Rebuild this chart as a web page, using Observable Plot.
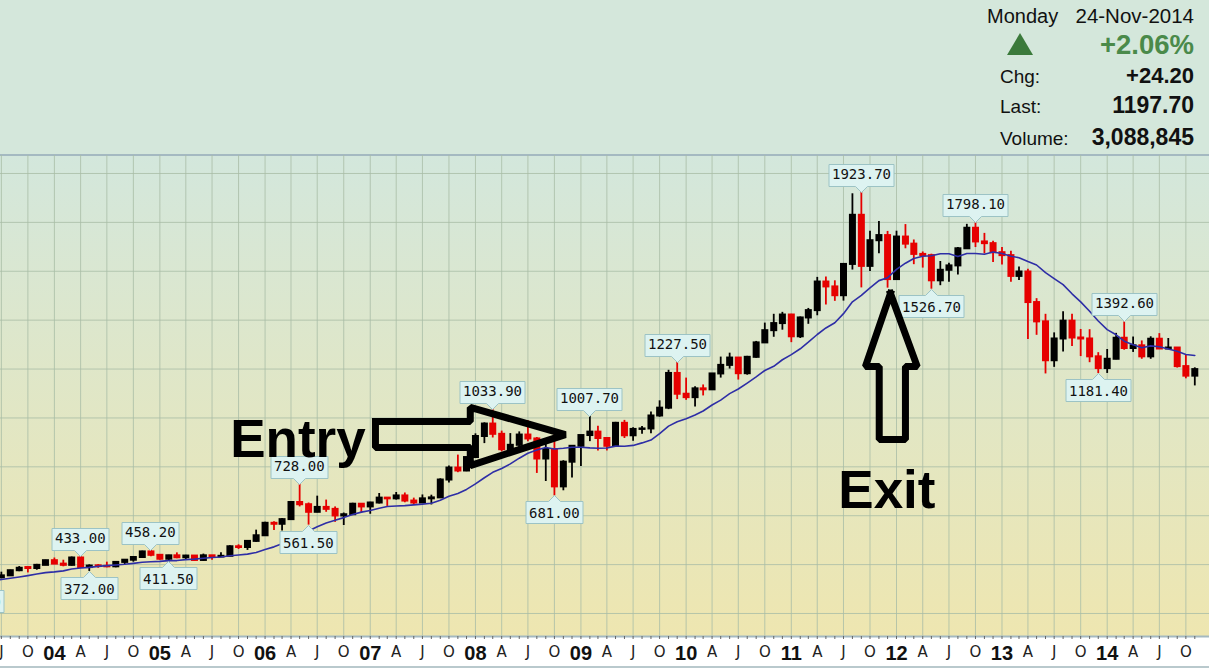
<!DOCTYPE html>
<html><head><meta charset="utf-8">
<script src="https://cdn.jsdelivr.net/npm/d3@7"></script>
<script src="https://cdn.jsdelivr.net/npm/@observablehq/plot@0.6"></script>
<style>
html,body{margin:0;padding:0;background:#fff;}
#wrap{position:relative;width:1209px;height:668px;overflow:hidden;font-family:"Liberation Sans",Arial,sans-serif;}
#head{position:relative;height:154px;background:#d4e7db;}
.t{position:absolute;white-space:nowrap;color:#111;line-height:1;}
.r{right:15px;text-align:right;}
.b{font-weight:bold;}
#tri{position:absolute;left:1007px;top:33px;width:0;height:0;border-left:13px solid transparent;border-right:13px solid transparent;border-bottom:22px solid #3b7a3b;}
#chart svg{display:block;}
</style></head><body>
<div id="wrap">
  <div id="head">
    <div class="t" style="left:987px;top:6px;font-size:20px;">Monday</div>
    <div class="t r" style="top:6px;font-size:20.5px;">24-Nov-2014</div>
    <div id="tri"></div>
    <div class="t r b" style="top:31px;font-size:27.5px;color:#4a8a4a;">+2.06%</div>
    <div class="t" style="left:1000px;top:67px;font-size:19px;">Chg:</div>
    <div class="t r b" style="top:65px;font-size:22px;">+24.20</div>
    <div class="t" style="left:1000px;top:97px;font-size:19px;">Last:</div>
    <div class="t r b" style="top:94px;font-size:23px;">1197.70</div>
    <div class="t" style="left:1000px;top:129px;font-size:19px;">Volume:</div>
    <div class="t r b" style="top:126px;font-size:23px;">3,088,845</div>
  </div>
  <div id="chart"></div>
</div>
<script>
// Monthly candles, Jul 2002 .. Nov 2014
const firstMonth = "2002-07-01";
const opens = [
 316.5,304,312,323,317,319,
 347,368,347,335,337,364,346,354,375,388,384,397,
 416,402,397,427,388,395,393,391,409,418,429,452,
 438,422,436,428,435,417,436,431,434,473,470,495,
 518,569,565,584,654,645,614,634,626,599,604,647,
 636,652,672,669,681,660,652,669,673,746,795,783,
 838,924,975,933,870,888,930,914,832,871,718,819,
 884,928,942,916,884,978,927,953,955,1008,1040,1182,
 1097,1083,1119,1115,1180,1215,1245,1181,1248,1307,1357,1386,
 1421,1332,1409,1439,1556,1536,1500,1628,1829,1620,1725,1746,
 1566,1740,1711,1669,1664,1561,1604,1622,1692,1776,1720,1713,
 1676,1664,1579,1597,1472,1393,1234,1323,1396,1327,1323,1250,
 1202,1240,1326,1284,1295,1250,1322,1282,1286,1210,1171];
const highs = [
 327,316,326,326,322,350,
 372,390,355,341,372,371,369,377,392,389,401,418,
 427,418,431,433,399,400,410,412,418,433,455,458.2,
 440,438,448,438,436,443,437,449,477,481,497,541,
 573,575,589,658,728,652,680,664,636,611,651,650,
 655,691,673,695,693,672,685,684,751,803,848,838,
 935,980,1033.9,946,936,943,988,920,914,940,825,887,
 928,1007.7,966,918,982,990,960,965,1024,1070,1195,1227.5,
 1163,1128,1135,1181,1249,1265,1246,1252,1313,1388,1424,1432,
 1424,1413,1448,1575,1577,1561,1632,1917,1923.7,1764,1804,1763,
 1764,1791,1728,1679,1670,1640,1633,1697,1792,1798.1,1755,1723,
 1697,1682,1617,1608,1488,1424,1348,1434,1424,1362,1361,1267,
 1280,1346,1392.6,1331,1315,1332,1345,1325,1288,1256,1205];
const lows = [
 302,300,311,310,313,317,
 345,343,322,319.9,336,341,342,353,371,366,377,396,
 400,391,394,386,372,385,387,387,398,410,428,432,
 418,411.5,424,421,414,414,418,431,432,462,458,491,
 518,540,537,583,636,561.5,612,614,573,560,602,611,
 606,648,638,664,653,642,651,644,672,734,776,780,
 834,895,918,861,850,858,903,773,740,681,702,754,
 801,903,865,865,880,916,905,933,935,1003,1034,1075,
 1072,1045,1090,1112,1163,1200,1155,1175,1244,1306,1330,1359,
 1308,1325,1383,1418,1462,1477,1478,1605,1532,1599,1672,1531,
 1564,1692,1627,1613,1526.7,1541,1555,1585,1690,1697,1671,1636,
 1626,1555,1562,1321,1338,1180,1207,1270,1292,1251,1226,1181.4,
 1182,1238,1277,1268,1240,1240,1281,1280,1204,1160,1131];
const closes = [
 304,312,323,317,319,347,
 368,347,335,337,364,346,354,375,385,384,397,416,
 402,397,427,388,394,393,391,409,418,429,452,438,
 422,436,428,435,417,436,431,434,473,470,495,518,
 569,565,584,654,645,614,634,626,599,604,647,636,
 652,672,669,681,660,652,669,673,746,795,783,838,
 924,975,933,870,888,930,914,832,871,718,819,884,
 928,942,916,884,978,927,953,955,1008,1040,1182,1097,
 1083,1119,1115,1180,1215,1245,1181,1248,1307,1357,1386,1421,
 1332,1409,1439,1556,1536,1500,1628,1829,1620,1725,1746,1566,
 1740,1711,1669,1664,1561,1604,1622,1692,1776,1720,1713,1676,
 1664,1579,1597,1472,1393,1234,1323,1396,1327,1323,1250,1202,
 1240,1326,1284,1295,1250,1322,1282,1286,1210,1171,1197.7];

// labelled swing highs / lows
const highLabels = [
 {date:"2004-04-01", value:433.00},{date:"2004-12-01", value:458.20},
 {date:"2006-05-01", value:728.00},{date:"2008-03-01", value:1033.90},
 {date:"2009-02-01", value:1007.70},{date:"2009-12-01", value:1227.50},
 {date:"2011-09-01", value:1923.70},{date:"2012-10-01", value:1798.10},
 {date:"2014-03-01", value:1392.60}];
const lowLabels = [
 {date:"2003-04-01", value:319.90},{date:"2004-05-01", value:372.00},
 {date:"2005-02-01", value:411.50},{date:"2006-06-01", value:561.50},
 {date:"2008-10-01", value:681.00},{date:"2012-05-01", value:1526.70},
 {date:"2013-12-01", value:1181.40}];

// axis labels
const yearLabels = ["04","05","06","07","08","09","10","11","12","13","14"];
const quarterLetters = ["A","J","O"];
const priceGrid = [200,400,600,800,1000,1200,1400,1600,1800,2000];

// annotations (date, price)
const entryArrow = [
 {date:"2007-01-19", price:985},{date:"2007-12-14", price:985},
 {date:"2007-12-14", price:1043},{date:"2008-11-08", price:932},
 {date:"2007-12-14", price:805},{date:"2007-12-14", price:879},
 {date:"2007-01-19", price:879},{date:"2007-01-19", price:985}];
const exitArrow = [
 {date:"2011-12-11", price:1509},{date:"2012-03-13", price:1210},
 {date:"2012-02-01", price:1210},{date:"2012-02-01", price:912},
 {date:"2011-11-02", price:912},{date:"2011-11-02", price:1210},
 {date:"2011-09-15", price:1210},{date:"2011-12-11", price:1509}];
const notes = [
 {date:"2005-09-02", price:910, text:"Entry"},
 {date:"2011-06-13", price:699, text:"Exit"}];

const toDate = (s) => new Date(s);
const months = d3.utcMonth.range(toDate(firstMonth), toDate("2014-12-01"));
const candles = months.map((date, i) => ({date, open: opens[i], high: highs[i], low: lows[i], close: closes[i]}));
const hl = highLabels.map(d => ({date: toDate(d.date), value: d.value, text: d3.format(".2f")(d.value)}));
const ll = lowLabels.map(d => ({date: toDate(d.date), value: d.value, text: d3.format(".2f")(d.value)}));
const ea = entryArrow.map(d => ({date: toDate(d.date), price: d.price}));
const xa = exitArrow.map(d => ({date: toDate(d.date), price: d.price}));
const nt = notes.map(d => ({...d, date: toDate(d.date)}));

const quarters = d3.utcMonth.every(3).range(toDate("2003-07-01"), toDate("2014-12-01"));
const yearTicks = quarters.filter(d => d.getUTCMonth() === 0);
const qTicks = quarters.filter(d => d.getUTCMonth() !== 0);
const monthTicks = d3.utcMonth.range(toDate("2003-07-01"), toDate("2014-12-01"));
const yearText = (d) => yearLabels[d.getUTCFullYear() - 2004];
const qText = (d) => quarterLetters[d.getUTCMonth() / 3 - 1];

const up = "#000000", down = "#e60000", grid = "#a9bda6";
const color = (d) => d.close >= d.open ? up : down;

const chart = Plot.plot({
  width: 1209, height: 514,
  marginTop: 1, marginBottom: 32, marginLeft: 0, marginRight: 0,
  x: {type: "utc", domain: [toDate("2003-06-28"), toDate("2014-12-22")], axis: null},
  y: {domain: [105.9, 2073.6], axis: null},
  color: {type: "identity"},
  style: {
    background: "linear-gradient(to bottom, #a4b9c1 0px, #a4b9c1 2px, #d3e7dc 2px, #eee6b0 482px, #ffffff 482px, #ffffff 512px, #b9c9cd 512px)",
    color: "#111", overflow: "visible"
  },
  marks: [
    Plot.ruleY(priceGrid, {stroke: grid, strokeOpacity: 0.8}),
    Plot.ruleX(quarters, {stroke: grid, strokeOpacity: 0.8}),
    Plot.frame({anchor: "bottom", stroke: "#a4b9c1", strokeWidth: 2}),
    Plot.ruleX(candles, {x: "date", y1: "low", y2: "high", stroke: color, strokeWidth: 1.8}),
    Plot.ruleX(candles, {x: "date", y1: d => Math.max(d.open, d.close), y2: d => Math.min(d.open, d.close),
      stroke: color, strokeWidth: 7, insetTop: -1, insetBottom: -1}),
    Plot.lineY(candles, Plot.windowY({k: 12, anchor: "end"}, {x: "date", y: "close", stroke: "#2e2ea6", strokeWidth: 1.6})),
    Plot.tip(hl, {x: "date", y: "value", title: "text", anchor: "bottom", fill: "#ddf3f1", stroke: "#9cc3c5",
      fontSize: 14, fontFamily: "DejaVu Sans Mono", textPadding: 3, pointerSize: 12, pathFilter: "none"}),
    Plot.tip(ll, {x: "date", y: "value", title: "text", anchor: "top", fill: "#ddf3f1", stroke: "#9cc3c5",
      fontSize: 14, fontFamily: "DejaVu Sans Mono", textPadding: 3, pointerSize: 12, pathFilter: "none"}),
    Plot.line(ea, {x: "date", y: "price", stroke: "#000", strokeWidth: 7, strokeLinejoin: "miter", strokeLinecap: "square"}),
    Plot.line(xa, {x: "date", y: "price", stroke: "#000", strokeWidth: 7, strokeLinejoin: "miter", strokeLinecap: "square"}),
    Plot.text(nt, {x: "date", y: "price", text: "text", textAnchor: "start", fontSize: 53, fontWeight: "bold",
      fontFamily: "Liberation Sans, Arial, sans-serif", fill: "#000"}),
    Plot.axisX({ticks: monthTicks, tickSize: 3, tickFormat: () => "", stroke: "#666"}),
    Plot.axisX({ticks: yearTicks, tickSize: 0, tickPadding: 9, tickFormat: yearText, fontWeight: "bold",
      fontSize: 20, fontFamily: "Liberation Sans, Arial, sans-serif", fill: "#111"}),
    Plot.axisX({ticks: qTicks, tickSize: 0, tickPadding: 10, tickFormat: qText,
      fontSize: 15, fontFamily: "DejaVu Sans, sans-serif", fill: "#222"})
  ]
});
document.getElementById("chart").appendChild(chart);
</script>
</body></html>
